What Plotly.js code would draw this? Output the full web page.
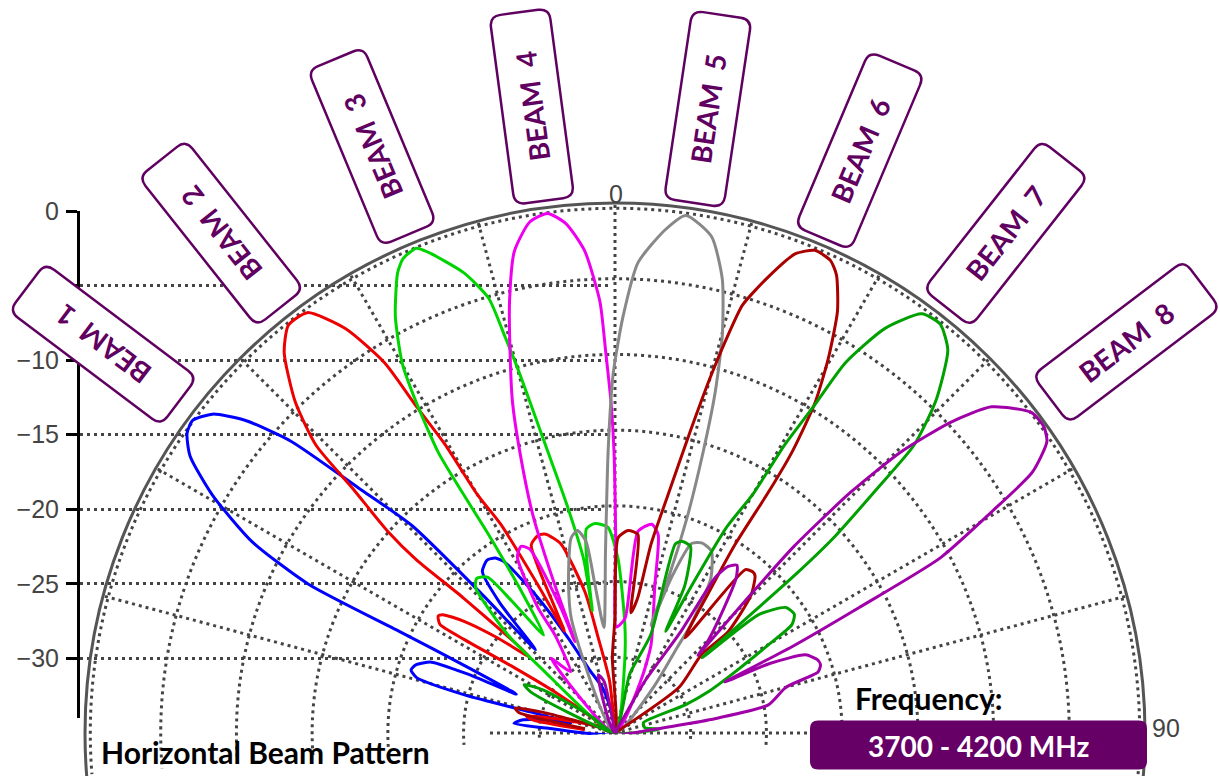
<!DOCTYPE html>
<html>
<head>
<meta charset="utf-8">
<script src="https://cdn.plot.ly/plotly-3.0.1.min.js"></script>
<style>html,body{margin:0;padding:0;background:#fff;}#chart{width:1220px;height:776px;}</style>
</head>
<body>
<div id="chart"></div>
<script>
// ---------------- DATA (angle in degrees, level in dB) ----------------
const beamNames = ['BEAM\u00a0\u00a01','BEAM\u00a0\u00a02','BEAM\u00a0\u00a03','BEAM\u00a0\u00a04','BEAM\u00a0\u00a05','BEAM\u00a0\u00a06','BEAM\u00a0\u00a07','BEAM\u00a0\u00a08'];

const theta1 = [-88,-86,-84.5,-82,-79,-77.5,-76,-75.8,-74.4,-72.8,-71.1,-68.9,-68.2,-68.5,-66,-64.8,-64.1,-62.2,-59.4,-56.9,-55,-53.5,-51.6,-49.8,-48,-46.3,-44.4,-43.8,-43.6,-41.5,-39.4,-36.5,-34.4,-32.8,-29.7,-26.3,-22,-15,-8];
const r1     = [-35,-30.6,-28.3,-28.8,-30.5,-32,-29.3,-24.8,-21.4,-20.9,-21.1,-22,-24.5,-28,-24.5,-19.5,-12.5,-7.9,-4.1,-1.5,-0.5,-0.3,-1.1,-3.0,-6.2,-11.6,-15.8,-22,-27.4,-23.5,-21.2,-20.8,-21.0,-21.6,-24.7,-28,-30.5,-32,-35];

const theta2 = [-84,-81,-79,-77,-72,-62,-55.7,-57,-58.2,-58.2,-56.5,-55.5,-53.5,-51,-48.2,-48.3,-48.9,-48.4,-47,-46.1,-44,-41,-38.7,-36.2,-33.7,-31.9,-31.3,-30.5,-30,-28.7,-27.5,-26.4,-25.6,-24,-21.2,-19.2,-16,-12,-10,-6,-2];
const r2     = [-33,-29.5,-29,-30.5,-33,-34,-30.2,-27.1,-23.3,-21.4,-21.0,-21.2,-22.6,-25,-27.5,-21.6,-17.6,-14.9,-11.3,-7.6,-4.6,-1.7,-0.5,-0.6,-2.9,-6.2,-9.8,-12.9,-16.8,-19.3,-24,-27.5,-25.8,-21.4,-21.0,-21.1,-22,-25.5,-28.6,-31.5,-35];

const theta3 = [-56,-48.7,-47.5,-43.8,-41.8,-39.3,-38,-36,-33.6,-32.5,-32.4,-32.2,-31,-29.9,-27.8,-25.3,-24.1,-22.3,-21.3,-18.2,-16.2,-15.5,-14.8,-13.8,-11.9,-10.2,-10.5,-9.5,-8,-5.5,-2,1,5.3,8,12];
const r3     = [-35,-28.5,-25.4,-21.7,-21.3,-21.7,-24,-27,-24.1,-19.4,-15.9,-13.1,-9.5,-6.8,-3.9,-1.4,-0.7,-0.4,-0.9,-3.0,-5.1,-7.9,-10.7,-14.7,-19.6,-23.4,-26.8,-24,-21.4,-21.1,-21.4,-23.5,-27.9,-30.5,-35];

const theta4 = [-46,-40.5,-36,-31.5,-31.6,-29,-26.7,-24.9,-23.4,-23.7,-22,-20.6,-18.7,-17.2,-15.4,-13.7,-11.8,-9.5,-7.4,-5.5,-3.6,-2,-1.4,-0.7,-0.2,0.2,0.8,5,6.5,10,12.3,15.1,22.2,26,30];
const r4     = [-35,-28.5,-30,-27.4,-25.3,-21.7,-21.2,-21.6,-26,-28.4,-24,-19.5,-15.4,-12.1,-8.9,-5.6,-2.5,-0.8,-0.4,-1.2,-3.1,-6.5,-9.8,-13.1,-16.4,-22,-28,-27.4,-21.6,-21.0,-21.6,-24.9,-28.7,-31,-35];

const theta5 = [-30,-21,-17,-12.7,-10.5,-8.6,-7.7,-6,-3,-1.4,-0.3,1.1,2.8,5.7,7.8,11,13.3,15.1,16.4,17.4,18.5,19,18.4,20,22,24.5,27.9,31.8,35,36,40,45];
const r5     = [-35,-27,-24.5,-21.8,-21.4,-22.2,-25.1,-28,-23,-16.4,-11.3,-7.5,-3.9,-1.6,-0.5,-1.6,-4.2,-7.8,-11.6,-15.5,-20,-24,-27.5,-24,-21.5,-21.2,-21.4,-23,-26.3,-28,-31,-35];

const theta6 = [-82,-78,-76,-74,-70,-5,-2,0,0.9,3.7,6.6,7.5,9.5,10.8,12.5,14,15,15.8,16.6,18.6,20.6,22.5,24.5,25.8,27.8,29.7,31.2,32.2,32.5,32.5,33.8,36.4,38.6,40.5,41.7,44.6,48.2,47.8,54.5,60];
const r6     = [-33,-28.5,-28.2,-30,-34,-35,-30,-27.4,-22.1,-21.6,-21.8,-27,-26,-22.3,-19,-14.5,-10.7,-7.9,-5.5,-3.2,-1.2,-0.5,-0.7,-1.4,-3.5,-6.6,-9.5,-13,-16,-20.3,-24,-27.2,-21.2,-21,-21.1,-22.2,-25,-27.3,-29.8,-35];

const theta7 = [-68,-64,-62,-59,-55,8,14,20,17.7,19.2,22,25.3,26.5,27.5,28.5,30,30.5,31.3,31.9,33.7,36.2,38.5,41,44,46.1,47,48.2,48.7,48.9,49.2,50.5,53.7,56.5,58.5,60.1,63,66.2,68.2,70,80,85,88];
const r7     = [-35,-28.8,-28.2,-29.5,-33,-35,-31,-28.1,-21.9,-21.6,-21.7,-24.2,-27.5,-24,-19.5,-16.8,-12.9,-9.8,-6.2,-2.9,-0.7,-0.5,-1.5,-4.5,-7.6,-11.3,-15.5,-19,-24,-27.4,-22.7,-21,-20.8,-21.3,-23.3,-26.1,-28.3,-30,-33,-33,-32,-35];

const theta8 = [-20,-16,-12,-8,20,30,33,32.8,34.2,36,38,41,45.5,46.8,44.5,43.8,44.4,45.5,47.2,49.1,52.4,54.5,56,58,59.6,61.7,62.8,64,65.1,65.8,67.7,70,71.6,73.3,75,79.6,81.7,85,88];
const r8     = [-35,-31,-31.5,-35,-35,-31,-27,-22.8,-21.7,-21.3,-22,-24,-26.5,-27.5,-22.5,-17.9,-12.7,-8.5,-4.8,-2.1,-0.3,-0.2,-0.6,-2.5,-6.2,-10.6,-16.9,-22,-27,-23.8,-21.4,-20.8,-20.7,-21,-23.3,-24.7,-28.1,-32.6,-35];

const radialTickVals = [0,-5,-10,-15,-20,-25,-30];
const angularTickVals = [-75,-60,-45,-30,-15,0,15,30,45,60,75,90];
const angleLabels = ['0','90'];
const freqLabel = '3700 - 4200 MHz';

// ---------------- STYLE / LAYOUT ----------------
const W = 1220, H = 776;
const beamColors = ['#0000ff','#ee0000','#00d400','#ee00ee','#888888','#aa0000','#00a000','#a000a8'];
const CX = 615, CY = 733, R = 530, SECT = 4.5;
const labelAngle = [-53,-38.4,-22.6,-7.6,8.5,22.9,38.2,52.8];
const labelDist  = [641,634,632,629,628,629,632,642];
const purple = '#600060';
const gridDash = '3px,4px';

const thetas = [theta1,theta2,theta3,theta4,theta5,theta6,theta7,theta8];
const rs = [r1,r2,r3,r4,r5,r6,r7,r8];

const traces = thetas.map((t,i)=>({
  type:'scatterpolar', mode:'lines', theta:t, r:rs[i], name:beamNames[i],
  line:{color:beamColors[i], width:3, shape:'spline', smoothing:0.6},
  hoverinfo:'skip', showlegend:false, subplot:'polar'
}));
traces.unshift({type:'scatter', x:[0], y:[0], mode:'markers', marker:{opacity:0}, hoverinfo:'skip', showlegend:false, xaxis:'x', yaxis:'y'});

const px = x => x/W, py = y => 1 - y/H;
function roundRectPath(cx, cy, L, S, rad, phiDeg){
  const p = phiDeg*Math.PI/180;
  const ux = Math.sin(p), uy = -Math.cos(p), vx = Math.cos(p), vy = Math.sin(p);
  const hw = L/2, hh = S/2;
  const T = (a,b) => (px(cx + a*ux + b*vx)).toFixed(5) + ',' + (py(cy + a*uy + b*vy)).toFixed(5);
  return 'M' + T(-hw+rad,-hh) + ' L' + T(hw-rad,-hh) + ' Q' + T(hw,-hh) + ' ' + T(hw,-hh+rad) +
         ' L' + T(hw,hh-rad) + ' Q' + T(hw,hh) + ' ' + T(hw-rad,hh) +
         ' L' + T(-hw+rad,hh) + ' Q' + T(-hw,hh) + ' ' + T(-hw,hh-rad) +
         ' L' + T(-hw,-hh+rad) + ' Q' + T(-hw,-hh) + ' ' + T(-hw+rad,-hh) + ' Z';
}

const shapes = [];
const annotations = [];
// outer boundary circle of the polar plot
shapes.push({type:'circle', xref:'paper', yref:'paper', x0:px(CX-R), x1:px(CX+R), y0:py(CY+R), y1:py(CY-R),
  line:{color:'#555', width:3}, fillcolor:'rgba(0,0,0,0)', layer:'above'});
labelAngle.forEach((a,i)=>{
  const cx = 615 + labelDist[i]*Math.sin(a*Math.PI/180);
  const cy = 730 - labelDist[i]*Math.cos(a*Math.PI/180);
  shapes.push({type:'path', xref:'paper', yref:'paper', path:roundRectPath(cx,cy,190,60,11,a),
    line:{color:purple, width:2.5}, fillcolor:'#ffffff', layer:'above'});
  annotations.push({xref:'paper', yref:'paper', x:px(cx), y:py(cy), xanchor:'center', yanchor:'middle',
    text:'<b>'+beamNames[i]+'</b>', textangle:a-90, showarrow:false,
    font:{family:'Lato, "Open Sans", sans-serif', size:28, color:purple}});
});
shapes.push({type:'path', xref:'paper', yref:'paper', path:roundRectPath(978.5,745,49,337,8,0),
  line:{width:0}, fillcolor:'#660066', layer:'above'});
shapes.push({type:'line', xref:'paper', yref:'paper', x0:px(490), x1:px(615), y0:py(CY), y1:py(CY),
  line:{color:'#444', width:3, dash:gridDash}, layer:'below'});

annotations.push({xref:'paper', yref:'paper', x:px(978.5), y:py(746), xanchor:'center', yanchor:'middle',
  text:'<b>'+freqLabel+'</b>', showarrow:false, font:{family:'Lato, sans-serif', size:28, color:'#ffffff'}});
annotations.push({xref:'paper', yref:'paper', x:px(928), y:py(698), xanchor:'center', yanchor:'middle',
  text:'<b>Frequency:</b>', showarrow:false, font:{family:'Lato, sans-serif', size:30, color:'#000000'}});
annotations.push({xref:'paper', yref:'paper', x:px(99), y:py(752), xanchor:'left', yanchor:'middle',
  text:'<b>Horizontal Beam Pattern</b>', showarrow:false, font:{family:'Lato, sans-serif', size:30, color:'#000000'}});
annotations.push({xref:'paper', yref:'paper', x:px(616), y:py(194), xanchor:'center', yanchor:'middle',
  text:angleLabels[0], showarrow:false, font:{family:'"Liberation Sans", Arial, sans-serif', size:25, color:'#444'}});
annotations.push({xref:'paper', yref:'paper', x:px(1150), y:py(728), xanchor:'left', yanchor:'middle',
  text:angleLabels[1], showarrow:false, font:{family:'"Liberation Sans", Arial, sans-serif', size:25, color:'#444'}});

const sinS = Math.sin(SECT*Math.PI/180);
const layout = {
  width:W, height:H, margin:{l:0,r:0,t:0,b:0}, paper_bgcolor:'#ffffff', plot_bgcolor:'rgba(0,0,0,0)',
  showlegend:false,
  xaxis:{domain:[px(80), px(612)], range:[0,1], visible:false, fixedrange:true},
  yaxis:{domain:[py(718), py(211)], range:[-34,0], anchor:'x', tickmode:'array', tickvals:radialTickVals,
    ticks:'outside', ticklen:11, tickwidth:3, tickcolor:'#000', showline:true, linecolor:'#000', linewidth:3,
    showgrid:true, gridcolor:'#444', gridwidth:3, griddash:gridDash, zeroline:false,
    tickfont:{family:'"Liberation Sans", Arial, sans-serif', size:25, color:'#444'}, ticklabelstandoff:2},
  polar:{
    domain:{x:[px(CX-R), px(CX+R)], y:[py(CY + R*sinS), py(CY - R)]},
    sector:[-SECT, 180+SECT], bgcolor:'rgba(0,0,0,0)', hole:0,
    radialaxis:{range:[-35,0], tickmode:'array', tickvals:[-30,-25,-20,-15,-10,-5,-0.35], showticklabels:false,
      ticks:'', showline:false, gridcolor:'#444', gridwidth:3, griddash:gridDash, layer:'below traces'},
    angularaxis:{rotation:90, direction:'clockwise', tickmode:'array', tickvals:angularTickVals,
      showticklabels:false, ticks:'', showline:false, gridcolor:'#444', gridwidth:3, griddash:gridDash,
      layer:'below traces'}
  },
  shapes:shapes, annotations:annotations
};
Plotly.newPlot('chart', traces, layout, {staticPlot:true, displayModeBar:false});
</script>
</body>
</html>
